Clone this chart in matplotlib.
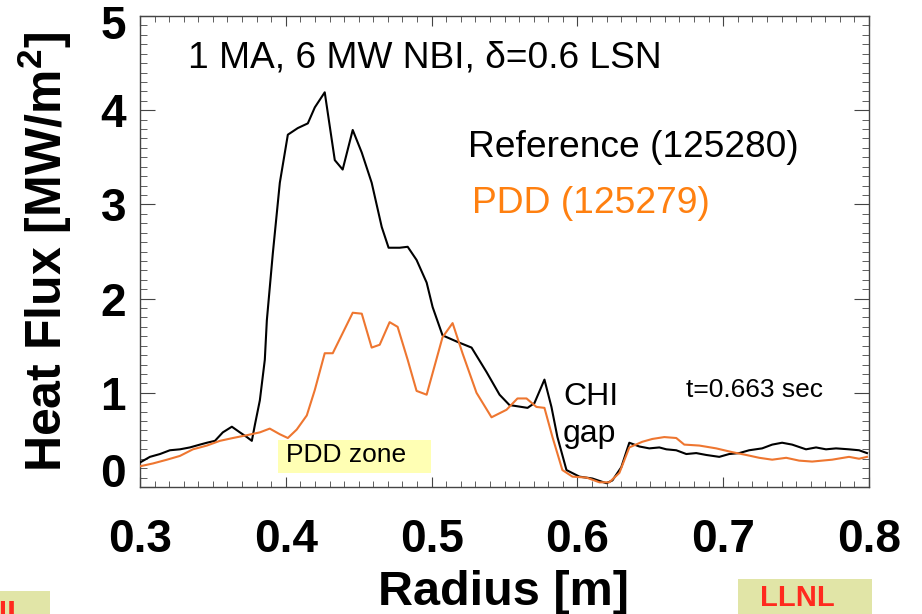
import matplotlib
matplotlib.use("Agg")
import matplotlib.pyplot as plt
from matplotlib.ticker import MultipleLocator
from matplotlib.patches import Rectangle
from matplotlib.transforms import ScaledTranslation

plt.rcParams['font.family'] = ['Liberation Sans', 'DejaVu Sans']
plt.rcParams['mathtext.fontset'] = 'custom'
plt.rcParams['mathtext.rm'] = 'Liberation Sans'
plt.rcParams['mathtext.bf'] = 'Liberation Sans:bold'

# Reference shot 125280
ref_r = [0.300, 0.3068, 0.3137, 0.3205, 0.3274, 0.3342, 0.3411, 0.3459, 0.3514, 0.3568,
         0.3630, 0.3685, 0.3733, 0.3767, 0.3788, 0.3822, 0.3856, 0.3870, 0.3911, 0.3959,
         0.4014, 0.4082, 0.4151, 0.4199, 0.4267, 0.4336, 0.4390, 0.4459, 0.4521, 0.4589,
         0.4658, 0.4705, 0.4781, 0.4836, 0.4897, 0.4966, 0.5007, 0.5075, 0.5178, 0.5274,
         0.5377, 0.5466, 0.5534, 0.5658, 0.5705, 0.5774, 0.5822, 0.5863, 0.5925, 0.6014,
         0.6103, 0.6199, 0.6240, 0.6301, 0.6356, 0.6425, 0.6493, 0.6562, 0.6610, 0.6678,
         0.6747, 0.6815, 0.6884, 0.6973, 0.7041, 0.7110, 0.7178, 0.7267, 0.7336, 0.7404,
         0.7473, 0.7568, 0.7637, 0.7705, 0.7774, 0.7863, 0.7932, 0.7986]
ref_q = [0.26, 0.32, 0.35, 0.39, 0.40, 0.42, 0.45, 0.47, 0.49, 0.58,
         0.64, 0.58, 0.53, 0.49, 0.66, 0.92, 1.35, 1.77, 2.48, 3.23,
         3.74, 3.81, 3.86, 4.03, 4.19, 3.47, 3.37, 3.79, 3.55, 3.23,
         2.76, 2.54, 2.54, 2.55, 2.41, 2.17, 1.91, 1.61, 1.54, 1.48,
         1.22, 0.98, 0.87, 0.84, 0.89, 1.14, 0.85, 0.53, 0.18, 0.11,
         0.09, 0.04, 0.07, 0.21, 0.47, 0.43, 0.41, 0.42, 0.40, 0.39,
         0.35, 0.36, 0.34, 0.32, 0.35, 0.36, 0.39, 0.41, 0.45, 0.47,
         0.45, 0.40, 0.42, 0.40, 0.41, 0.40, 0.39, 0.36]

# PDD shot 125279
pdd_r = [0.300, 0.3089, 0.3185, 0.3274, 0.3363, 0.3459, 0.3548, 0.3637, 0.3733, 0.3822,
         0.3890, 0.3959, 0.4014, 0.4075, 0.4144, 0.4199, 0.4267, 0.4322, 0.4459, 0.4521,
         0.4589, 0.4644, 0.4712, 0.4767, 0.4836, 0.4897, 0.4966, 0.5075, 0.5144, 0.5212,
         0.5308, 0.5411, 0.5514, 0.5589, 0.5651, 0.5719, 0.5774, 0.5829, 0.5897, 0.5966,
         0.6062, 0.6151, 0.6219, 0.6288, 0.6356, 0.6445, 0.6514, 0.6596, 0.6678, 0.6733,
         0.6836, 0.6952, 0.7062, 0.7158, 0.7247, 0.7336, 0.7432, 0.7521, 0.7610, 0.7747,
         0.7863, 0.7932, 0.7986]
pdd_q = [0.22, 0.25, 0.29, 0.33, 0.40, 0.44, 0.49, 0.52, 0.55, 0.58,
         0.62, 0.56, 0.52, 0.61, 0.76, 1.03, 1.42, 1.42, 1.85, 1.84,
         1.48, 1.51, 1.75, 1.70, 1.35, 1.02, 0.98, 1.59, 1.74, 1.42,
         1.00, 0.74, 0.82, 0.94, 0.94, 0.85, 0.84, 0.53, 0.18, 0.11,
         0.10, 0.05, 0.05, 0.15, 0.42, 0.48, 0.51, 0.53, 0.52, 0.45,
         0.44, 0.41, 0.37, 0.34, 0.31, 0.29, 0.31, 0.28, 0.27, 0.29,
         0.32, 0.30, 0.32]

x_ticks = [0.3, 0.4, 0.5, 0.6, 0.7, 0.8]
y_ticks = [0, 1, 2, 3, 4, 5]

W, H = 922, 614
fig = plt.figure(figsize=(W / 100, H / 100), dpi=100)
ax = fig.add_axes([140 / W, 1 - 487 / H, 729 / W, 471 / H])

ax.plot(ref_r, ref_q, color='black', lw=1.5, zorder=3)
ax.plot(pdd_r, pdd_q, color='#EE7630', lw=1.5, zorder=3)

ax.set_xlim(0.3, 0.8)
ax.set_ylim(0, 5)
ax.set_xticks(x_ticks)
ax.set_xticklabels([f"{v:.1f}" for v in x_ticks])
ax.set_yticks(y_ticks)
ax.set_yticklabels([str(v) for v in y_ticks])
ax.xaxis.set_minor_locator(MultipleLocator(0.01))
ax.yaxis.set_minor_locator(MultipleLocator(0.1))

for s in ax.spines.values():
    s.set_color('#444444')
    s.set_linewidth(1.0)

ax.tick_params(axis='x', which='major', direction='in', length=7, width=0.8,
               top=True, color='#444444', labelsize=33, pad=22)
ax.tick_params(axis='x', which='minor', direction='in', length=4, width=0.6,
               top=True, color='#444444')
ax.tick_params(axis='y', which='major', direction='in', length=11, width=0.8,
               right=True, color='#444444', labelsize=33, pad=10)
ax.tick_params(axis='y', which='minor', direction='in', length=5, width=0.6,
               right=True, color='#444444')
for lab in ax.get_xticklabels() + ax.get_yticklabels():
    lab.set_fontweight('bold')
ylabs = ax.get_yticklabels()
ylabs[0].set_va('baseline')
ylabs[-1].set_va('center')
ylabs[-1].set_transform(ylabs[-1].get_transform()
                        + ScaledTranslation(0, -11 / 100, fig.dpi_scale_trans))

# axis labels
fig.text(504 / W, 1 - 605 / H, 'Radius [m]', ha='center', va='baseline',
         fontsize=35, fontweight='bold')
fig.text(45 / W, 1 - 252 / H, r'Heat Flux [MW/m$^\mathbf{2}$]', ha='center', va='center',
         rotation=90, fontsize=36, fontweight='bold')

# annotations
ax.text(0.0658, 0.8917, '1 MA, 6 MW NBI, δ=0.6 LSN', transform=ax.transAxes,
        fontsize=26.7, va='baseline', ha='left', color='black')
ax.text(0.450, 0.7006, 'Reference (125280)', transform=ax.transAxes,
        fontsize=26.7, va='baseline', ha='left', color='black')
ax.text(0.4554, 0.5817, 'PDD (125279)', transform=ax.transAxes,
        fontsize=26.8, va='baseline', ha='left', color='#FF8010')
ax.text(0.5802, 0.1741, 'CHI', transform=ax.transAxes,
        fontsize=23, va='baseline', ha='left', color='black')
ax.text(0.5802, 0.0955, 'gap', transform=ax.transAxes,
        fontsize=23, va='baseline', ha='left', color='black')
ax.text(0.749, 0.191, 't=0.663 sec', transform=ax.transAxes,
        fontsize=19, va='baseline', ha='left', color='black')

ax.add_patch(Rectangle((0.1893, 0.0297), 0.2099, 0.0701, transform=ax.transAxes,
                       facecolor='#FFFFB4', edgecolor='none', zorder=2))
ax.text(0.2003, 0.0531, 'PDD zone', transform=ax.transAxes,
        fontsize=19, va='baseline', ha='left', color='black', zorder=4)

# bottom logo boxes (at the figure edge)
fig.patches.append(Rectangle((0, 0), 50 / W, 23 / H, transform=fig.transFigure,
                             facecolor='#E1E5A7', edgecolor='none'))
fig.text(28 / W, 1 - 600 / H, 'LLNL', ha='right', va='top', fontsize=23,
         fontweight='bold', color='#FF2A1E')
fig.patches.append(Rectangle((738 / W, 0), 134 / W, 35 / H, transform=fig.transFigure,
                             facecolor='#E1E5A7', edgecolor='none'))
fig.text(760 / W, 1.5 / H, 'LLNL', ha='left', va='bottom', fontsize=21,
         fontweight='bold', color='#FF2A1E')

fig.savefig('out.png', dpi=100)
